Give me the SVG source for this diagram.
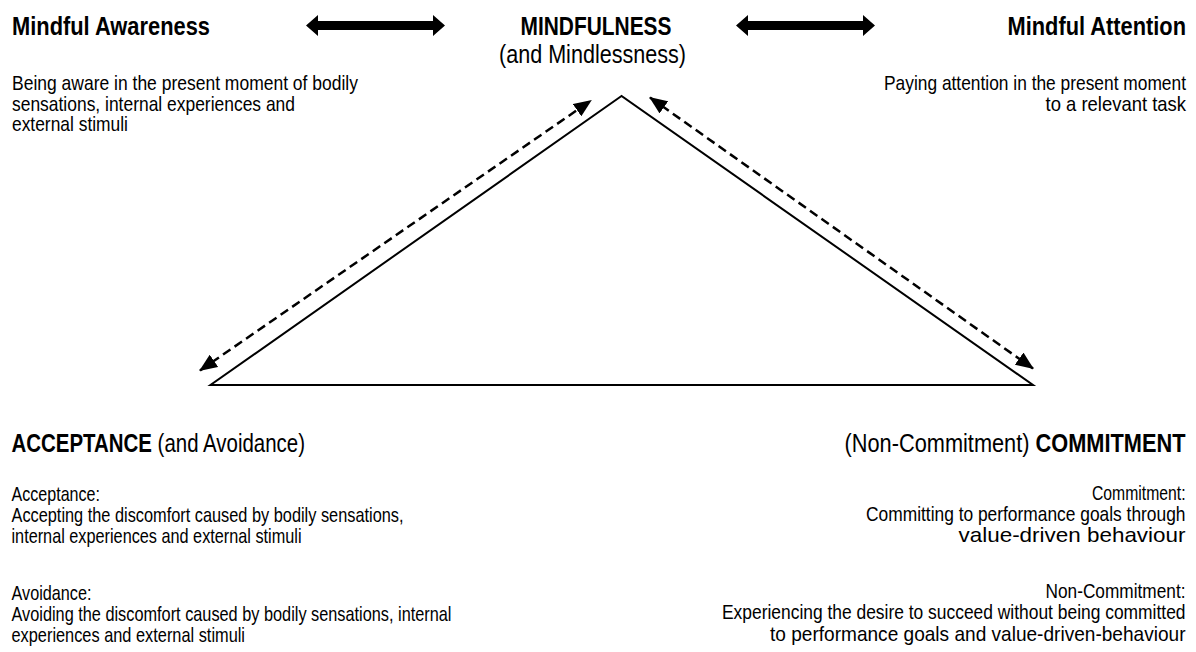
<svg xmlns="http://www.w3.org/2000/svg" width="1196" height="652" viewBox="0 0 1196 652">
<defs>
<style>
text{font-family:"Liberation Sans",Arial,sans-serif;fill:#000}
.h{font-size:25px;font-weight:bold}
.hr{font-size:25px}
.b{font-size:21px}
.e{text-anchor:end}
.m{text-anchor:middle}
.bold{font-weight:bold}
.reg{font-weight:normal}
.dash{fill:none;stroke:#000;stroke-width:2.5;stroke-dasharray:9 5}
.tri{fill:none;stroke:#000;stroke-width:2}
</style>
<marker id="ah" viewBox="0 0 18 15" refX="17" refY="7.5" markerWidth="18" markerHeight="15" markerUnits="userSpaceOnUse" orient="auto-start-reverse">
<path d="M0,0 L18,7.5 L0,15 z" fill="#000"/>
</marker>
</defs>
<rect width="1196" height="652" fill="#fff"/>

<g id="connectors">
<polygon points="306,25.5 318,15 318,21 433,21 433,15 445,25.5 433,36 433,30 318,30 318,36" fill="#000"/>
<polygon points="736,25.5 748,15 748,21 863,21 863,15 875,25.5 863,36 863,30 748,30 748,36" fill="#000"/>
<line class="dash" x1="200" y1="370.5" x2="591" y2="100.5" marker-start="url(#ah)" marker-end="url(#ah)"/>
<line class="dash" x1="650" y1="97.5" x2="1033" y2="368.5" marker-start="url(#ah)" marker-end="url(#ah)"/>
</g>

<g id="triangle">
<polygon class="tri" points="621.5,96 210.5,385 1033,385"/>
</g>

<g id="mindful-awareness">
<text class="h" x="12" y="35" textLength="198" lengthAdjust="spacingAndGlyphs">Mindful Awareness</text>
<text class="b" x="12" y="90" textLength="346" lengthAdjust="spacingAndGlyphs">Being aware in the present moment of bodily</text>
<text class="b" x="12" y="110.5" textLength="283" lengthAdjust="spacingAndGlyphs">sensations, internal experiences and</text>
<text class="b" x="12" y="131" textLength="116" lengthAdjust="spacingAndGlyphs">external stimuli</text>
</g>

<g id="mindfulness">
<text class="h m" x="596" y="35" textLength="151" lengthAdjust="spacingAndGlyphs">MINDFULNESS</text>
<text class="hr m" x="592.5" y="63" textLength="187" lengthAdjust="spacingAndGlyphs">(and Mindlessness)</text>
</g>

<g id="mindful-attention">
<text class="h e" x="1186" y="35" textLength="178.5" lengthAdjust="spacingAndGlyphs">Mindful Attention</text>
<text class="b e" x="1186" y="90" textLength="302" lengthAdjust="spacingAndGlyphs">Paying attention in the present moment</text>
<text class="b e" x="1186" y="110.5" textLength="140.5" lengthAdjust="spacingAndGlyphs">to a relevant task</text>
</g>

<g id="acceptance">
<text class="hr" x="11.5" y="451.5" textLength="293.5" lengthAdjust="spacingAndGlyphs"><tspan class="bold">ACCEPTANCE</tspan> (and Avoidance)</text>
<text class="b" x="11.5" y="501" textLength="88.5" lengthAdjust="spacingAndGlyphs">Acceptance:</text>
<text class="b" x="11.5" y="522" textLength="392" lengthAdjust="spacingAndGlyphs">Accepting the discomfort caused by bodily sensations,</text>
<text class="b" x="11.5" y="543" textLength="290" lengthAdjust="spacingAndGlyphs">internal experiences and external stimuli</text>
<text class="b" x="11.5" y="599.5" textLength="80" lengthAdjust="spacingAndGlyphs">Avoidance:</text>
<text class="b" x="11.5" y="620.5" textLength="440" lengthAdjust="spacingAndGlyphs">Avoiding the discomfort caused by bodily sensations, internal</text>
<text class="b" x="11.5" y="641.5" textLength="233.5" lengthAdjust="spacingAndGlyphs">experiences and external stimuli</text>
</g>

<g id="commitment">
<text class="hr e" x="1185.5" y="451.5" textLength="341" lengthAdjust="spacingAndGlyphs">(Non-Commitment) <tspan class="bold">COMMITMENT</tspan></text>
<text class="b e" x="1185.5" y="500" textLength="93.5" lengthAdjust="spacingAndGlyphs">Commitment:</text>
<text class="b e" x="1185.5" y="521" textLength="319.5" lengthAdjust="spacingAndGlyphs">Committing to performance goals through</text>
<text class="b e" x="1185.5" y="542" textLength="227" lengthAdjust="spacingAndGlyphs">value-driven behaviour</text>
<text class="b e" x="1185.5" y="598" textLength="140" lengthAdjust="spacingAndGlyphs">Non-Commitment:</text>
<text class="b e" x="1185.5" y="619" textLength="463.5" lengthAdjust="spacingAndGlyphs">Experiencing the desire to succeed without being committed</text>
<text class="b e" x="1185.5" y="640.5" textLength="415.5" lengthAdjust="spacingAndGlyphs">to performance goals and value-driven-behaviour</text>
</g>
</svg>
